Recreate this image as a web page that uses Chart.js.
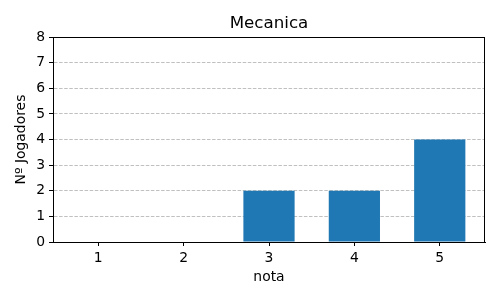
<!DOCTYPE html>
<html>
<head>
<meta charset="utf-8">
<script src="https://cdn.jsdelivr.net/npm/chart.js@4"></script>
<style>
  body { margin: 0; background: #fff; }
</style>
</head>
<body>
<canvas id="chart" width="500" height="300"></canvas>
<script>
const notas = [1, 2, 3, 4, 5];
const jogadores = [0, 0, 2, 2, 4];
const yTicks = [0, 1, 2, 3, 4, 5, 6, 7, 8];

const ctx = document.getElementById('chart').getContext('2d');
const fontFamily = '"DejaVu Sans", sans-serif';

// black box round the plot area, like matplotlib spines
const frame = {
    id: 'frame',
    afterDraw(chart) {
        const a = chart.chartArea;
        const c = chart.ctx;
        c.save();
        c.strokeStyle = '#000';
        c.lineWidth = 1;
        c.strokeRect(Math.round(a.left) + 0.5, Math.round(a.top) + 0.5,
            Math.round(a.right - a.left) - 1, Math.round(a.bottom - a.top));
        c.restore();
    }
};

new Chart(ctx, {
    type: 'bar',
    data: {
        datasets: [{
            data: notas.map((n, i) => ({ x: n, y: jogadores[i] })),
            backgroundColor: '#1f77b4',
            borderWidth: 0,
            barPercentage: 0.6,
            categoryPercentage: 1
        }]
    },
    options: {
        responsive: false,
        animation: false,
        layout: { padding: { top: 0, right: 15, bottom: 0, left: 0 } },
        plugins: {
            legend: { display: false },
            tooltip: { enabled: false },
            title: {
                display: true,
                fullSize: false,
                text: 'Mecanica',
                color: '#000',
                font: { family: fontFamily, size: 16.7, weight: 'normal', lineHeight: 1.2 },
                padding: { top: 14, bottom: 3 }
            }
        },
        scales: {
            x: {
                type: 'linear',
                min: 0.47,
                max: 5.53,
                offset: false,
                afterBuildTicks: s => { s.ticks = notas.map(v => ({ value: v })); },
                afterFit: s => { s.height = 58; },
                grid: {
                    offset: false,
                    drawOnChartArea: false,
                    drawTicks: true,
                    tickLength: 4,
                    tickColor: '#000'
                },
                border: { color: '#000' },
                ticks: {
                    color: '#000',
                    padding: 4,
                    font: { family: fontFamily, size: 13.9 }
                },
                title: {
                    display: true,
                    text: 'nota',
                    color: '#000',
                    font: { family: fontFamily, size: 13.9, lineHeight: 1.2 },
                    padding: { top: 0, bottom: 14.7 }
                }
            },
            y: {
                min: 0,
                max: 8,
                z: 1,
                afterBuildTicks: s => { s.ticks = yTicks.map(v => ({ value: v })); },
                afterFit: s => { s.width = 53; },
                grid: {
                    color: '#b0b0b0',
                    lineWidth: 0.8,
                    tickLength: 4,
                    tickColor: '#000',
                    tickWidth: 1
                },
                border: { color: '#000', dash: [3.5, 1.6] },
                ticks: {
                    color: '#000',
                    padding: 4,
                    font: { family: fontFamily, size: 13.9 }
                },
                title: {
                    display: true,
                    text: 'Nº Jogadores',
                    color: '#000',
                    font: { family: fontFamily, size: 13.9, lineHeight: 1.2 },
                    padding: { top: 12.7, bottom: 0 }
                }
            }
        }
    },
    plugins: [frame]
});
</script>
</body>
</html>
